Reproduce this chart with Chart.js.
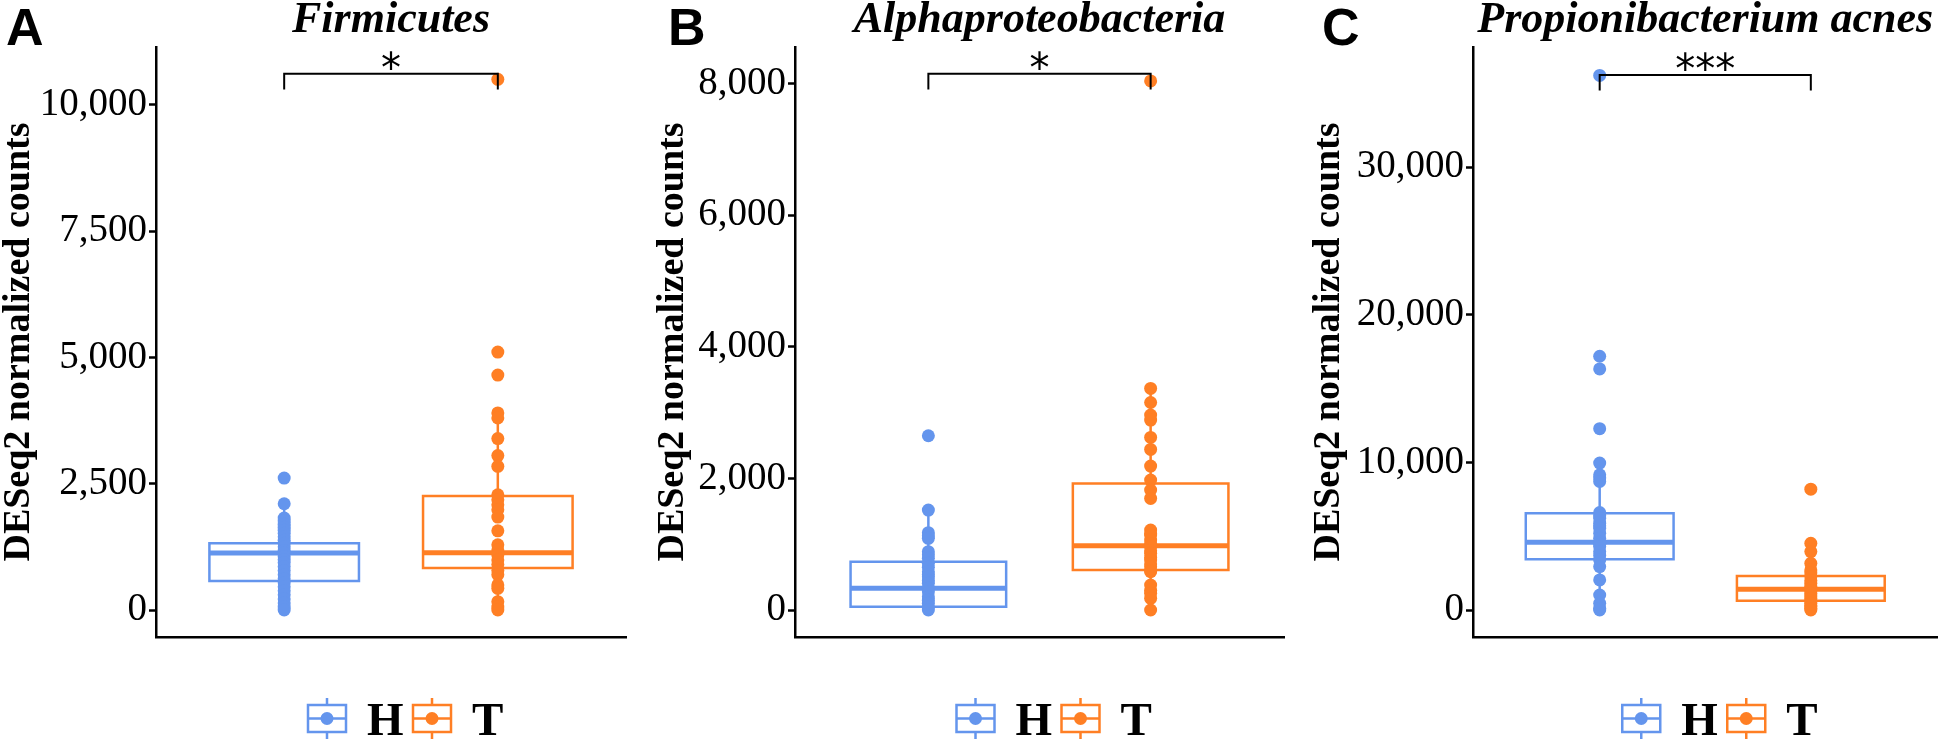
<!DOCTYPE html>
<html>
<head>
<meta charset="utf-8">
<script src="https://cdn.jsdelivr.net/npm/chart.js@4.4.1/dist/chart.umd.min.js"></script>
<style>
  html, body { margin: 0; padding: 0; background: #fff; }
  #wrap { position: relative; width: 1944px; height: 741px; }
  canvas { position: absolute; top: 0; }
</style>
</head>
<body>
<div id="wrap">
  <canvas id="panelA" width="648" height="741" style="left:0"></canvas>
  <canvas id="panelB" width="648" height="741" style="left:648px"></canvas>
  <canvas id="panelC" width="648" height="741" style="left:1296px"></canvas>
</div>
<script>
const groups = ['H', 'T'];
const groupColors = ['#6495ED', '#FF7F24'];

// A - Firmicutes
const firmH = [2612, 2103, 1821, 1760, 1700, 1640, 1580, 1520, 1450, 1380, 1320, 1250, 1180, 1130, 1060, 1000, 940, 860, 780, 700, 620, 540, 460, 380, 300, 220, 140, 60, 0];
const firmT = [10505, 5106, 4650, 3902, 3803, 3393, 3056, 2844, 2282, 2183, 2083, 1984, 1839, 1568, 1290, 1190, 1091, 992, 900, 780, 700, 496, 430, 165, 60, 0];
// box stats: [low whisker, q1, median, q3, high whisker]
const firmBoxH = [0, 575, 1130, 1322, 2103];
const firmBoxT = [0, 830, 1136, 2255, 3902];
const firmTicks = [0, 2500, 5000, 7500, 10000];
const firmBracket = [10305, 10614];

// B - Alphaproteobacteria
const alphaH = [2648, 1519, 1175, 1130, 1089, 886, 840, 785, 709, 650, 582, 540, 506, 450, 405, 330, 278, 203, 150, 101, 50, 0];
const alphaT = [8041, 3367, 3154, 2962, 2886, 2623, 2440, 2187, 1975, 1823, 1696, 1215, 1160, 1139, 1063, 1010, 962, 900, 861, 800, 759, 700, 658, 600, 582, 380, 300, 253, 177, 0];
const alphaBoxH = [0, 51, 329, 734, 1519];
const alphaBoxT = [0, 608, 977, 1924, 3367];
const alphaTicks = [0, 2000, 4000, 6000, 8000];
const alphaBracket = [7912, 8149];

// C - Propionibacterium acnes
const acnesH = [36220, 17191, 16332, 12283, 9953, 9161, 8935, 8709, 6605, 6400, 6220, 5881, 5700, 5542, 5200, 4863, 4592, 4450, 4298, 3958, 3700, 3393, 2941, 2036, 1018, 452, 113, 0];
const acnesT = [8188, 4524, 3958, 3167, 2714, 2500, 2262, 2000, 1810, 1600, 1470, 1300, 1131, 950, 792, 600, 452, 300, 226, 100, 0];
const acnesBoxH = [0, 3438, 4592, 6560, 9953];
const acnesBoxT = [0, 633, 1402, 2307, 4524];
const acnesTicks = [0, 10000, 20000, 30000];
const acnesBracket = [35196, 36250];

const BOX_HALF = 0.35;

// letter, title, stars, legend drawn on top of the plot
const panelDecor = {
    id: 'panelDecor',
    afterDatasetsDraw(chart, args, opts) {
        const { ctx, chartArea: a, scales: { x, y } } = chart;
        const mid = (a.left + a.right) / 2;
        ctx.save();
        ctx.fillStyle = '#000';
        ctx.textBaseline = 'alphabetic';

        ctx.font = 'bold 52px "Liberation Sans"';
        ctx.textAlign = 'left';
        ctx.fillText(opts.letter, opts.letterX, 45);

        ctx.font = 'italic bold 44px "Liberation Serif"';
        ctx.textAlign = 'center';
        ctx.fillText(opts.title, mid, 32);

        ctx.font = '40px "DejaVu Sans"';
        ctx.fillText(opts.stars, x.getPixelForValue(1.5), y.getPixelForValue(opts.bracketTop) + 8);

        // legend
        const lx = mid - 83;
        groups.forEach((g, i) => {
            const bx = lx + i * 105;
            const cx = bx + 19;
            ctx.strokeStyle = groupColors[i];
            ctx.lineWidth = 2.5;
            ctx.beginPath();
            ctx.moveTo(cx, 698); ctx.lineTo(cx, 705);
            ctx.moveTo(cx, 732); ctx.lineTo(cx, 739);
            ctx.moveTo(bx, 718.5); ctx.lineTo(bx + 38, 718.5);
            ctx.stroke();
            ctx.strokeRect(bx, 705, 38, 27);
            ctx.fillStyle = groupColors[i];
            ctx.beginPath();
            ctx.arc(cx, 718.5, 6.5, 0, 2 * Math.PI);
            ctx.fill();
            ctx.fillStyle = '#000';
            ctx.font = 'bold 47px "Liberation Serif"';
            ctx.textAlign = 'left';
            ctx.fillText(g, bx + 59, 735);
        });
        ctx.restore();
    }
};

function lineSet(points, color, width) {
    return {
        type: 'scatter', showLine: true, data: points,
        borderColor: color, borderWidth: width, pointRadius: 0,
        borderCapStyle: 'square', borderJoinStyle: 'miter', tension: 0, fill: false
    };
}

function boxSets(stats, color, xc) {
    const [lo, q1, med, q3, hi] = stats;
    const l = xc - BOX_HALF, r = xc + BOX_HALF;
    return {
        median: Object.assign(lineSet([{ x: l, y: med }, { x: r, y: med }], color, 5), { borderCapStyle: 'butt' }),
        box: lineSet([{ x: l, y: q1 }, { x: r, y: q1 }, { x: r, y: q3 }, { x: l, y: q3 }, { x: l, y: q1 }], color, 2.5),
        whisk: Object.assign(lineSet([{ x: xc, y: lo }, { x: xc, y: q1 }, { x: xc, y: null }, { x: xc, y: q3 }, { x: xc, y: hi }], color, 2.5), { borderCapStyle: 'butt' })
    };
}

function makePanel(id, p) {
    const bH = boxSets(p.boxH, groupColors[0], 1);
    const bT = boxSets(p.boxT, groupColors[1], 2);
    const pts = (vals, xc, color) => ({
        type: 'scatter', data: vals.map(v => ({ x: xc, y: v })),
        backgroundColor: color, borderWidth: 0, pointRadius: 6.5
    });
    const bracket = lineSet([
        { x: 1, y: p.bracket[0] }, { x: 1, y: p.bracket[1] },
        { x: 2, y: p.bracket[1] }, { x: 2, y: p.bracket[0] }
    ], '#000', 2);
    bracket.borderCapStyle = 'butt';

    new Chart(document.getElementById(id), {
        type: 'scatter',
        data: {
            datasets: [bracket,
                pts(p.h, 1, groupColors[0]), pts(p.t, 2, groupColors[1]),
                bH.median, bT.median, bH.box, bT.box, bH.whisk, bT.whisk]
        },
        options: {
            responsive: false,
            animation: false,
            devicePixelRatio: 1,
            events: [],
            layout: { padding: { left: p.padLeft, right: p.padRight, top: 47, bottom: 104 } },
            plugins: {
                legend: { display: false },
                tooltip: { enabled: false },
                panelDecor: { letter: p.letter, letterX: p.letterX, title: p.title, stars: p.stars, bracketTop: p.bracket[1] }
            },
            scales: {
                x: {
                    type: 'linear', min: 0.4, max: 2.6,
                    ticks: { display: false },
                    grid: { display: false },
                    border: { display: true, color: '#000', width: 2.5 },
                    afterFit: s => { s.height = 0; }
                },
                y: {
                    type: 'linear', min: p.yMin, max: p.yMax,
                    afterBuildTicks: s => { s.ticks = p.ticks.map(v => ({ value: v })); },
                    ticks: {
                        color: '#000', padding: 2,
                        font: { family: 'Liberation Serif', size: 39 },
                        callback: v => v.toLocaleString('en-US')
                    },
                    grid: { display: true, drawOnChartArea: false, drawTicks: true, tickLength: 7, tickWidth: 2.5, tickColor: '#000' },
                    border: { display: true, color: '#000', width: 2.5 },
                    title: {
                        display: true, text: 'DESeq2 normalized counts', color: '#000', padding: 0,
                        font: { family: 'Liberation Serif', weight: 'bold', size: 38, lineHeight: 1 }
                    },
                    afterFit: s => { s.width = p.yWidth; }
                }
            }
        },
        plugins: [panelDecor]
    });
}

document.addEventListener('DOMContentLoaded', () => {
    makePanel('panelA', {
        letter: 'A', letterX: 6, title: 'Firmicutes', stars: '*',
        h: firmH, t: firmT, boxH: firmBoxH, boxT: firmBoxT, ticks: firmTicks, bracket: firmBracket,
        yMin: -534, yMax: 11144, padLeft: 0, yWidth: 156, padRight: 22
    });
    makePanel('panelB', {
        letter: 'B', letterX: 20, title: 'Alphaproteobacteria', stars: '*',
        h: alphaH, t: alphaT, boxH: alphaBoxH, boxT: alphaBoxT, ticks: alphaTicks, bracket: alphaBracket,
        yMin: -410, yMax: 8556, padLeft: 6, yWidth: 141, padRight: 12
    });
    makePanel('panelC', {
        letter: 'C', letterX: 26, title: 'Propionibacterium acnes', stars: '***',
        h: acnesH, t: acnesT, boxH: acnesBoxH, boxT: acnesBoxT, ticks: acnesTicks, bracket: acnesBracket,
        yMin: -1829, yMax: 38144, padLeft: 14, yWidth: 163, padRight: 1
    });
});
</script>
</body>
</html>
